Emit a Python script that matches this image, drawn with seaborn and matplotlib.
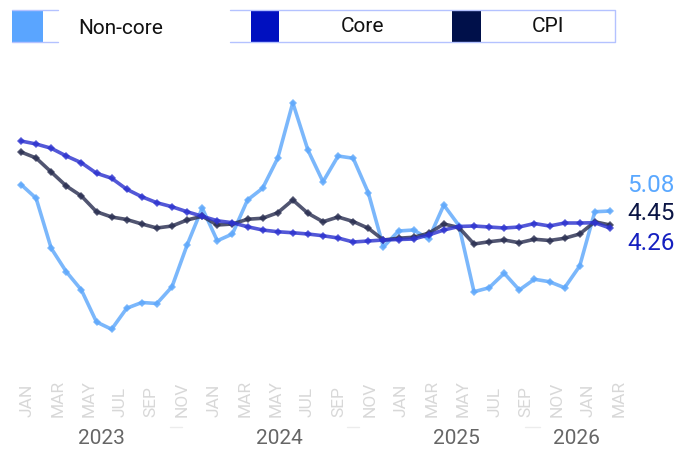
import numpy as np
import pandas as pd
import seaborn as sns
import matplotlib.pyplot as plt
from matplotlib.patches import Rectangle
from matplotlib.lines import Line2D
from matplotlib.transforms import blended_transform_factory

sns.set_theme(style='white')
plt.rcParams['font.family'] = ['Roboto', 'DejaVu Sans']

# data (monthly points)
non_core = [6.22, 5.67, 3.67, 2.73, 2.00, 0.72, 0.43, 1.27, 1.50, 1.46,
            2.13, 3.80, 5.28, 3.97, 4.24, 5.60, 6.07, 7.27, 9.49, 7.60,
            6.33, 7.36, 7.27, 5.89, 3.72, 4.36, 4.40, 4.04, 5.40, 4.58,
            1.93, 2.09, 2.67, 2.00, 2.43, 2.33, 2.09, 2.96, 5.13, 5.16]
core = [7.96, 7.84, 7.67, 7.36, 7.09, 6.67, 6.47, 6.03, 5.73, 5.49,
        5.33, 5.13, 4.95, 4.77, 4.69, 4.53, 4.40, 4.33, 4.29, 4.24,
        4.17, 4.08, 3.92, 3.96, 4.00, 4.02, 4.04, 4.20, 4.40, 4.54,
        4.56, 4.52, 4.48, 4.52, 4.66, 4.56, 4.68, 4.68, 4.69, 4.48]
cpi = [7.52, 7.28, 6.72, 6.16, 5.76, 5.13, 4.92, 4.82, 4.64, 4.48,
       4.56, 4.80, 4.95, 4.60, 4.64, 4.83, 4.87, 5.09, 5.60, 5.07,
       4.73, 4.92, 4.74, 4.47, 4.00, 4.07, 4.11, 4.27, 4.64, 4.50,
       3.84, 3.93, 4.00, 3.89, 4.03, 3.98, 4.07, 4.24, 4.73, 4.60]

series = ['Non-core', 'CPI', 'Core']
colors = {'Non-core': '#5ea8fb', 'Core': '#2d33cf', 'CPI': '#2b3052'}
legend_colors = {'Non-core': '#5aa5ff', 'Core': '#0010c0', 'CPI': '#00104a'}

month_labels = ['JAN', 'MAR', 'MAY', 'JUL', 'SEP', 'NOV'] * 3 + ['JAN', 'MAR']
years = ['2023', '2024', '2025', '2026']
end_labels = ['5.08', '4.45', '4.26']

df = pd.concat([
    pd.DataFrame({'idx': np.arange(len(v)), 'value': v, 'series': name})
    for name, v in [('Non-core', non_core), ('CPI', cpi), ('Core', core)]
])

W, H = 693, 451
fig = plt.figure(figsize=(W / 100, H / 100), dpi=100)
ax = fig.add_axes([5.9 / W, (H - 340) / H, 634.2 / W, 250 / H])

sns.lineplot(data=df, x='idx', y='value', hue='series', hue_order=series,
             palette=colors, marker='D', markersize=4.2, markeredgewidth=0,
             linewidth=2.6, alpha=0.82, legend=False, ax=ax)

ax.set_xlim(-1, 41)
ax.set_ylim(0, 10)
ax.set_xlabel('')
ax.set_ylabel('')
ax.set_yticks([])
sns.despine(ax=ax, left=True, bottom=True)

# month ticks (label axis is spaced a bit wider than the data points)
tick_pos = [(5.5 + 15.6 * m) / 15.1 for m in range(0, 2 * len(month_labels), 2)]
ax.set_xticks(tick_pos, month_labels)
ax.tick_params(axis='x', length=0, pad=55.4, labelsize=12.5, labelcolor='#d8d8d8')
for lab in ax.get_xticklabels():
    lab.set_rotation(90)
    lab.set_va('bottom')
    lab.set_ha('center')

trans = blended_transform_factory(ax.transData, ax.transAxes)
year_pos = [5.34, 17.09, 28.87, 36.79]
for yr, xp in zip(years, year_pos):
    ax.text(xp, -0.392, yr, transform=trans, ha='center', va='center',
            fontsize=15, color='#666666')
for x0, x1 in [(9.87, 10.66), (21.6, 22.4), (33.4, 34.4)]:
    ax.add_line(Line2D([x0, x1], [-0.347, -0.347], transform=trans,
                       color='#ececec', lw=1, clip_on=False))

# end value labels
for txt, yp, c in zip(end_labels, [186, 214, 243], ['#5aa8ff', '#0b1545', '#1520c0']):
    fig.text(627 / W, (H - yp) / H, txt, ha='left', va='center', fontsize=17.5, color=c)

# legend boxes drawn at the top
def px_rect(x0, y0, x1, y1, **kw):
    fig.add_artist(Rectangle((x0 / W, (H - y1) / H), (x1 - x0) / W, (y1 - y0) / H,
                             transform=fig.transFigure, **kw))

def px_line(xs, ys, **kw):
    fig.add_artist(Line2D([x / W for x in xs], [(H - y) / H for y in ys],
                          transform=fig.transFigure, **kw))

border = '#b4c2ff'
px_line([12, 58], [10, 10], color=border, lw=1)
px_line([12, 58], [42, 42], color=border, lw=1)
px_rect(12, 10, 43, 42, color=legend_colors['Non-core'], lw=0)
fig.text(121 / W, (H - 29) / H, 'Non-core', ha='center', va='center', fontsize=15, color='#111111')

px_line([230, 615, 615, 230], [10, 10, 42, 42], color=border, lw=1)
px_rect(251, 10, 279, 42, color=legend_colors['Core'], lw=0)
fig.text(363 / W, (H - 27) / H, 'Core', ha='center', va='center', fontsize=15, color='#111111')
px_rect(452, 10, 481, 42, color=legend_colors['CPI'], lw=0)
fig.text(548 / W, (H - 27) / H, 'CPI', ha='center', va='center', fontsize=15, color='#111111')

fig.savefig('out.png', dpi=100)
